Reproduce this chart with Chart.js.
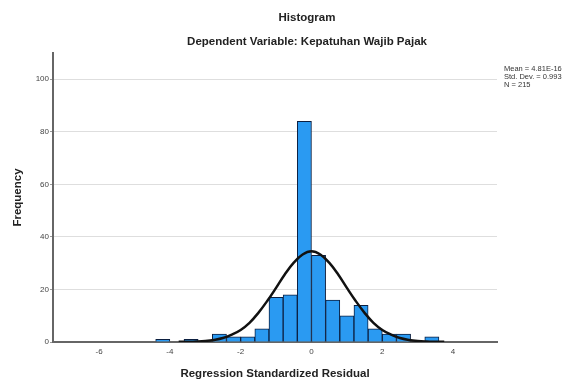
<!DOCTYPE html>
<html>
<head>
<meta charset="utf-8">
<script src="https://cdn.jsdelivr.net/npm/chart.js@4.4.0/dist/chart.umd.min.js"></script>
<style>
  body { margin: 0; background: #fff; }
  #wrap { width: 563px; height: 383px; }
</style>
</head>
<body>
<div id="wrap"><canvas id="myChart"></canvas></div>
<script>
// histogram bins (centre of each 0.4 wide bin) and counts
const binCentres = [-4.2, -3.4, -2.6, -2.2, -1.8, -1.4, -1.0, -0.6, -0.2, 0.2, 0.6, 1.0, 1.4, 1.8, 2.2, 2.6, 3.0, 3.4];
const binCounts  = [1, 1, 3, 2, 2, 5, 17, 18, 84, 33, 16, 10, 14, 5, 3, 3, 0, 2];

// normal curve
const curveX = [-3.75, -3.5, -3.25, -3, -2.75, -2.5, -2.25, -2, -1.75, -1.5, -1.25, -1, -0.75, -0.5, -0.25, 0,
                0.25, 0.5, 0.75, 1, 1.25, 1.5, 1.75, 2, 2.25, 2.5, 2.75, 3, 3.25, 3.5, 3.75];
const curveY = [0.05, 0.1, 0.2, 0.4, 0.8, 1.5, 2.8, 4.6, 7.3, 11.1, 15.6, 20.6, 25.8, 30.2, 33.3, 34.5,
                33.3, 30.2, 25.8, 20.6, 15.6, 11.1, 7.3, 4.6, 2.8, 1.5, 0.8, 0.4, 0.2, 0.1, 0.05];

const xTicks = [-6, -4, -2, 0, 2, 4];
const yTicks = [0, 20, 40, 60, 80, 100];

const titleText = 'Histogram';
const subtitleText = 'Dependent Variable: Kepatuhan Wajib Pajak';
const statsText = ['Mean = 4.81E-16', 'Std. Dev. = 0.993', 'N = 215'];

const fontName = '"Liberation Sans", Arial, sans-serif';

// titles sit over the middle of the plot, stats box at the right edge
const extras = {
  id: 'extras',
  afterDraw(chart) {
    const c = chart.ctx;
    c.save();
    c.fillStyle = '#222';
    c.textAlign = 'center';
    c.textBaseline = 'middle';
    c.font = 'bold 11.5px ' + fontName;
    c.fillText(titleText, 307, 18);
    c.fillText(subtitleText, 307, 42);
    c.textAlign = 'left';
    c.font = '7.5px ' + fontName;
    c.fillStyle = '#333';
    statsText.forEach((t, i) => c.fillText(t, 504, 69 + i * 8));
    c.restore();
  }
};

const ctx = document.getElementById('myChart');
const myChart = new Chart(ctx, {
  data: {
    datasets: [{
      type: 'line',
      data: curveX.map((x, i) => ({x: x, y: curveY[i]})),
      borderColor: '#111',
      borderWidth: 2.5,
      pointRadius: 0,
      tension: 0.4,
      fill: false,
      order: 0
    }, {
      type: 'bar',
      data: binCentres.map((x, i) => ({x: x, y: binCounts[i]})),
      backgroundColor: '#2a9af2',
      borderColor: '#0c1f40',
      borderWidth: 1,
      barPercentage: 1,
      categoryPercentage: 1,
      order: 1
    }]
  },
  options: {
    responsive: true,
    maintainAspectRatio: false,
    animation: false,
    layout: { padding: { left: 6, right: 66, top: 53, bottom: 0 } },
    plugins: {
      legend: { display: false },
      tooltip: { enabled: false }
    },
    scales: {
      x: {
        type: 'linear',
        offset: false,
        min: -7.3,
        max: 5.24,
        afterFit: s => { s.height = 41; },
        afterBuildTicks: s => { s.ticks = xTicks.map(v => ({value: v})); },
        grid: { display: false, drawTicks: false, offset: false },
        border: { color: '#666', width: 2 },
        ticks: { color: '#444', font: { family: fontName, size: 8 }, padding: 5 },
        title: {
          display: true,
          text: 'Regression Standardized Residual',
          color: '#222',
          font: { family: fontName, size: 11.5, weight: 'bold' },
          padding: { top: 2, bottom: 2 }
        }
      },
      y: {
        min: 0,
        max: 110,
        afterFit: s => { s.width = 47; },
        afterBuildTicks: s => { s.ticks = yTicks.map(v => ({value: v})); },
        grid: { color: '#dedede', tickLength: 3, tickColor: '#999' },
        border: { color: '#666', width: 2 },
        ticks: { color: '#444', font: { family: fontName, size: 8 }, padding: 1 },
        title: {
          display: true,
          text: 'Frequency',
          color: '#222',
          font: { family: fontName, size: 11.5, weight: 'bold' },
          padding: { top: 5, bottom: 2 }
        }
      }
    }
  },
  plugins: [extras]
});
</script>
</body>
</html>
